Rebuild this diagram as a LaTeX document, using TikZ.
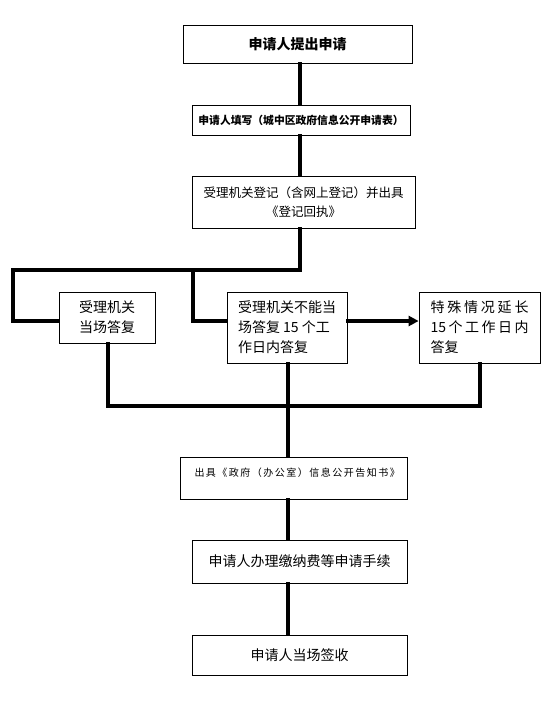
\documentclass[tikz,border=0pt]{standalone}
\usepackage{fontspec}
\setmainfont{Noto Sans CJK SC}
\newfontfamily\cjk{Noto Sans CJK SC}
\usetikzlibrary{arrows.meta,calc}
\begin{document}
\begin{tikzpicture}[x=1pt,y=-1pt,
  box/.style={draw,line width=0.8pt,inner sep=0pt,align=center,font=\cjk\fontsize{14}{20}\selectfont},
  conn/.style={line width=3.6pt,line join=miter,line cap=rect}]
\useasboundingbox (0,0) rectangle (552,728);
\fill[white] (0,0) rectangle (552,728);
% boxes
\node[box,minimum width=229pt,minimum height=38pt,font=\cjk\bfseries\fontsize{14}{18}\selectfont] (b1) at (297.5,44) {申请人提出申请};
\node[box,minimum width=218pt,minimum height=30pt,font=\cjk\bfseries\fontsize{10.8}{14}\selectfont] (b2) at (301,120) {申请人填写（城中区政府信息公开申请表）};
\node[box,minimum width=223pt,minimum height=52pt,font=\cjk\fontsize{12.5}{19}\selectfont] (b3) at (303.5,202) {受理机关登记（含网上登记）并出具\\《登记回执》};
\node[box,minimum width=96pt,minimum height=51pt] (b4) at (107,317.5) {受理机关\\当场答复};
\node[box,minimum width=120pt,minimum height=71pt,align=left] (b5) at (287,327.5) {受理机关不能当\\场答复 15 个工\\作日内答复};
\node[box,minimum width=121pt,minimum height=71pt,align=left] (b6) at (479.5,327.5) {\makebox[98pt][s]{特 殊 情 况 延 长}\\\makebox[98pt][s]{15 个 工 作 日 内}\\答复};
\node[box,minimum width=227pt,minimum height=42pt,font=\cjk\fontsize{10}{12}\selectfont] (b7) at (293.5,478) {\makebox[198pt][s]{出 具 《 政 府 （ 办 公 室 ） 信 息 公 开 告 知 书 》}\\[0pt]\mbox{}};
\node[box,minimum width=215pt,minimum height=43pt] (b8) at (299.5,561.5) {申请人办理缴纳费等申请手续};
\node[box,minimum width=215pt,minimum height=40pt] (b9) at (299.5,655) {申请人当场签收};
% helper coordinates
\coordinate (cA) at (300,0);
\coordinate (cB) at (288,0);
\coordinate (split) at (300,270);
\coordinate (farleft) at (13,270);
\coordinate (mid) at (193,270);
\coordinate (row) at (0,321);
\coordinate (join) at (0,406);
\coordinate (c4) at (108,0);
\coordinate (c6) at (480,0);
% connectors
\draw[conn] (b1.south -| cA) -- (b2.north -| cA);
\draw[conn] (b2.south -| cA) -- (b3.north -| cA);
\draw[conn] (b3.south -| cA) -- (split) -- (farleft) -- (farleft |- row) -- (b4.west |- row);
\draw[conn] (mid) -- (mid |- row) -- (b5.west |- row);
\draw[conn,-{Triangle[length=10pt,width=10pt]}] (b5.east |- row) -- (b6.west |- row);
\draw[conn] (b4.south -| c4) -- (c4 |- join) -- (c6 |- join) -- (b6.south -| c6);
\draw[conn] (b5.south -| cB) -- (b7.north -| cB);
\draw[conn] (b7.south -| cB) -- (b8.north -| cB);
\draw[conn] (b8.south -| cB) -- (b9.north -| cB);
\end{tikzpicture}
\end{document}
